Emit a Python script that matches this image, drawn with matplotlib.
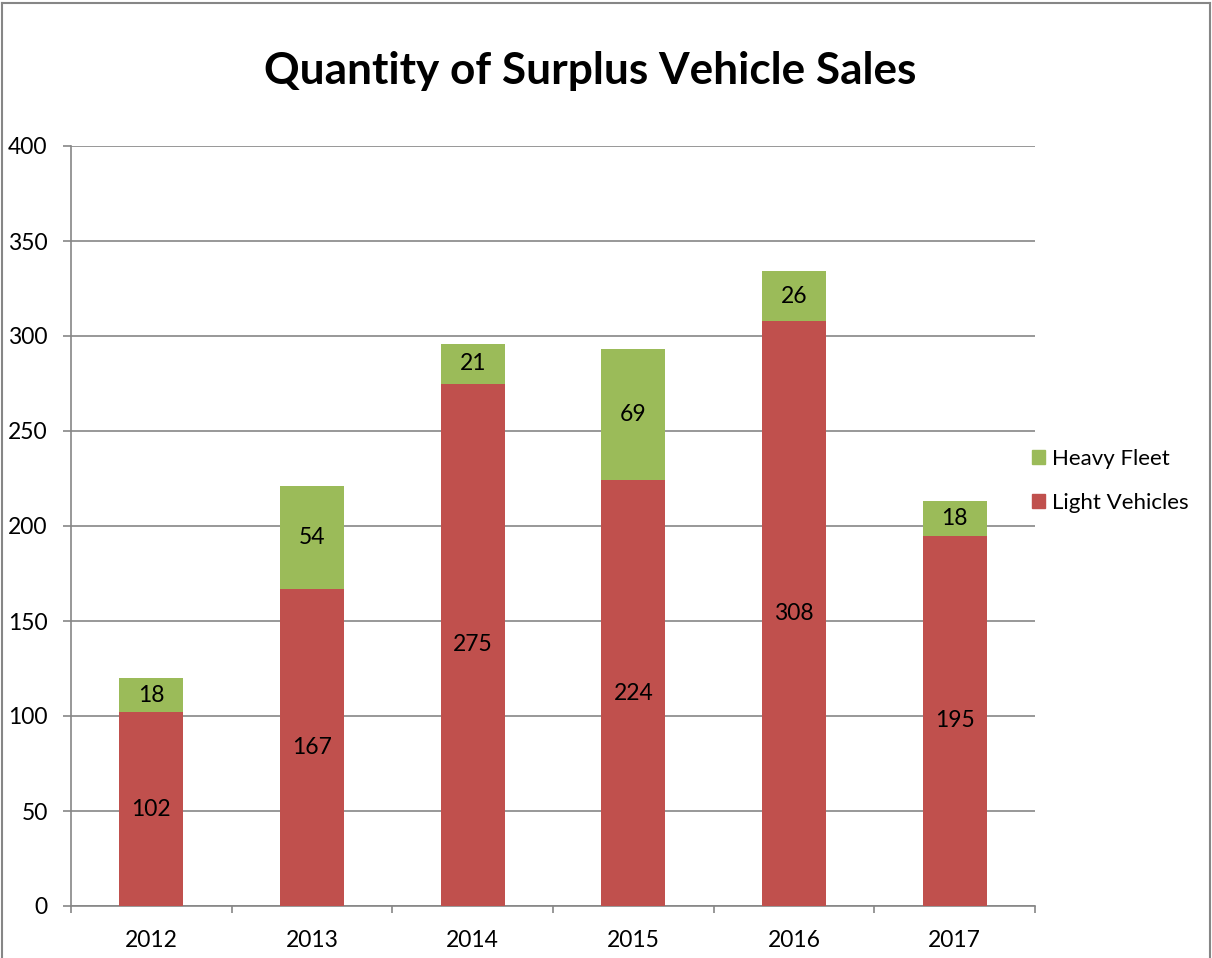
import matplotlib
matplotlib.use("Agg")
import matplotlib.pyplot as plt
from matplotlib.lines import Line2D
from matplotlib.patches import Patch
import numpy as np

plt.rcParams['font.family'] = ['Lato', 'DejaVu Sans']

years = ["2012", "2013", "2014", "2015", "2016", "2017"]
light_vehicles = [102, 167, 275, 224, 308, 195]
heavy_fleet = [18, 54, 21, 69, 26, 18]
yticks = [0, 50, 100, 150, 200, 250, 300, 350, 400]

RED = "#C0504D"
GREEN = "#9BBB59"
GRAY = "#868686"

W, H = 1212, 958
fig = plt.figure(figsize=(W / 100, H / 100), dpi=100)
ax = fig.add_axes([71 / W, 1 - 906 / H, (1035 - 71) / W, (906 - 146) / H])

x = np.arange(len(years))
b1 = ax.bar(x, light_vehicles, width=0.4, color=RED, zorder=3, label="Light Vehicles")
b2 = ax.bar(x, heavy_fleet, width=0.4, bottom=light_vehicles, color=GREEN, zorder=3, label="Heavy Fleet")

for vals, bottoms in ((light_vehicles, [0] * len(years)), (heavy_fleet, light_vehicles)):
    for xi, v, b in zip(x, vals, bottoms):
        ax.text(xi, b + v / 2, str(v), ha="center", va="center", fontsize=16.5, color="black", zorder=4)

ax.set_xlim(-0.5, len(years) - 0.5)
ax.set_ylim(0, 400)
ax.set_yticks(yticks)
ax.set_yticklabels([str(t) for t in yticks], fontsize=16.5)
ax.yaxis.grid(True, color=GRAY, linewidth=1.2, zorder=0)
ax.set_xticks(x)
ax.set_xticklabels(years, fontsize=16.5)
ax.tick_params(axis="x", length=0, pad=17)
ax.set_xticks(np.arange(-0.5, len(years)), minor=True)
ax.tick_params(axis="x", which="minor", length=5.2, width=1.2, color=GRAY)
ax.tick_params(axis="y", length=5.8, width=1.2, color=GRAY, pad=11)
for s in ("top", "right"):
    ax.spines[s].set_visible(False)
for s in ("left", "bottom"):
    ax.spines[s].set_color(GRAY)
    ax.spines[s].set_linewidth(1.2)

fig.text(590 / W, 1 - 71 / H, "Quantity of Surplus Vehicle Sales", ha="center", va="center",
         fontsize=31.8, fontweight="bold")

handles = [Patch(color=GREEN, label="Heavy Fleet"), Patch(color=RED, label="Light Vehicles")]
fig.legend(handles=handles, loc="center left", bbox_to_anchor=(1012 / W, 1 - 481 / H),
           frameon=False, fontsize=16, handlelength=0.6, handleheight=0.6,
           handletextpad=0.3, labelspacing=1.1)

# outer border
for xs, ys in (([2 / W, 2 / W], [0, 1 - 3 / H]), ([2 / W, 1210 / W], [1 - 3 / H, 1 - 3 / H]),
               ([1210 / W, 1210 / W], [0, 1 - 3 / H])):
    fig.add_artist(Line2D(xs, ys, color=GRAY, linewidth=1.5, transform=fig.transFigure))

fig.savefig("out.png", dpi=100, facecolor="white")
